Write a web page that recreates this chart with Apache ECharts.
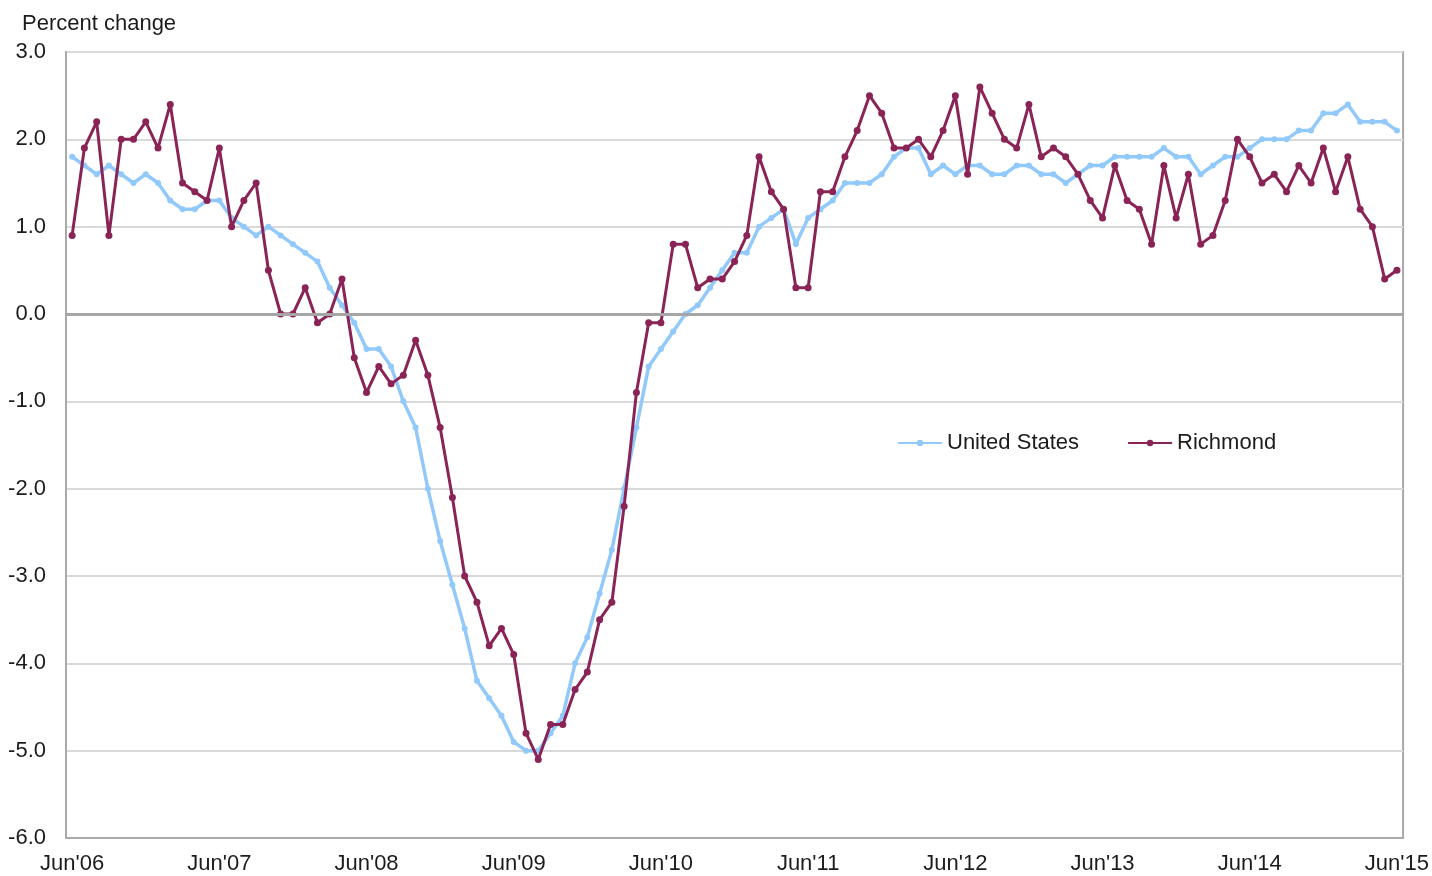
<!DOCTYPE html>
<html>
<head>
<meta charset="utf-8">
<script src="https://cdn.jsdelivr.net/npm/echarts@6/dist/echarts.min.js"></script>
<style>
  html, body { margin: 0; padding: 0; background: #fff; }
  #chart { width: 1432px; height: 876px; }
</style>
</head>
<body>
<div id="chart"></div>
<script>
// Monthly categories, June 2006 through June 2015
const months = ['Jan','Feb','Mar','Apr','May','Jun','Jul','Aug','Sep','Oct','Nov','Dec'];
const categories = [];
for (let y = 2006; y <= 2015; y++) {
  for (let m = 0; m < 12; m++) {
    if ((y === 2006 && m < 5) || (y === 2015 && m > 5)) continue;
    categories.push(months[m] + "'" + String(y).slice(2));
  }
}

// Over-the-year percent change, United States
const unitedStates = [
  1.8, 1.7, 1.6, 1.7, 1.6, 1.5, 1.6, 1.5, 1.3, 1.2, 1.2, 1.3,
  1.3, 1.1, 1.0, 0.9, 1.0, 0.9, 0.8, 0.7, 0.6, 0.3, 0.1, -0.1,
  -0.4, -0.4, -0.6, -1.0, -1.3, -2.0, -2.6, -3.1, -3.6, -4.2, -4.4, -4.6,
  -4.9, -5.0, -5.0, -4.8, -4.6, -4.0, -3.7, -3.2, -2.7, -2.0, -1.3, -0.6,
  -0.4, -0.2, 0.0, 0.1, 0.3, 0.5, 0.7, 0.7, 1.0, 1.1, 1.2, 0.8,
  1.1, 1.2, 1.3, 1.5, 1.5, 1.5, 1.6, 1.8, 1.9, 1.9, 1.6, 1.7,
  1.6, 1.7, 1.7, 1.6, 1.6, 1.7, 1.7, 1.6, 1.6, 1.5, 1.6, 1.7,
  1.7, 1.8, 1.8, 1.8, 1.8, 1.9, 1.8, 1.8, 1.6, 1.7, 1.8, 1.8,
  1.9, 2.0, 2.0, 2.0, 2.1, 2.1, 2.3, 2.3, 2.4, 2.2, 2.2, 2.2,
  2.1
];

// Over-the-year percent change, Richmond
const richmond = [
  0.9, 1.9, 2.2, 0.9, 2.0, 2.0, 2.2, 1.9, 2.4, 1.5, 1.4, 1.3,
  1.9, 1.0, 1.3, 1.5, 0.5, 0.0, 0.0, 0.3, -0.1, 0.0, 0.4, -0.5,
  -0.9, -0.6, -0.8, -0.7, -0.3, -0.7, -1.3, -2.1, -3.0, -3.3, -3.8, -3.6,
  -3.9, -4.8, -5.1, -4.7, -4.7, -4.3, -4.1, -3.5, -3.3, -2.2, -0.9, -0.1,
  -0.1, 0.8, 0.8, 0.3, 0.4, 0.4, 0.6, 0.9, 1.8, 1.4, 1.2, 0.3,
  0.3, 1.4, 1.4, 1.8, 2.1, 2.5, 2.3, 1.9, 1.9, 2.0, 1.8, 2.1,
  2.5, 1.6, 2.6, 2.3, 2.0, 1.9, 2.4, 1.8, 1.9, 1.8, 1.6, 1.3,
  1.1, 1.7, 1.3, 1.2, 0.8, 1.7, 1.1, 1.6, 0.8, 0.9, 1.3, 2.0,
  1.8, 1.5, 1.6, 1.4, 1.7, 1.5, 1.9, 1.4, 1.8, 1.2, 1.0, 0.4,
  0.5
];

const seriesNames = ['United States', 'Richmond'];
const yTicks = { min: -6, max: 3, step: 1 };

const FONT = '"Liberation Sans", Arial, sans-serif';
const TEXT = '#1c1c1c';
const US_COLOR = '#92c9fb';
const RICH_COLOR = '#8a2456';

const chart = echarts.init(document.getElementById('chart'), null, { renderer: 'canvas' });

chart.setOption({
  animation: false,
  backgroundColor: '#ffffff',
  textStyle: { fontFamily: FONT },
  graphic: [{
    type: 'text',
    left: 22,
    top: 13,
    style: { text: 'Percent change', font: '22px ' + FONT, fill: TEXT }
  }],
  legend: {
    data: seriesNames,
    left: 892,
    top: 427,
    itemGap: 48,
    itemWidth: 44,
    itemHeight: 8,
    textStyle: { fontSize: 22, color: TEXT, fontFamily: FONT }
  },
  grid: {
    left: 66, right: 28, top: 52, bottom: 38,
    show: true,
    borderColor: '#a9a9a9',
    borderWidth: 2
  },
  xAxis: {
    type: 'category',
    data: categories,
    boundaryGap: true,
    axisLine: { show: true, onZero: false, lineStyle: { color: '#a9a9a9', width: 2 } },
    axisTick: { show: false },
    axisLabel: {
      interval: 11,
      margin: 15,
      fontSize: 22,
      color: TEXT,
      fontFamily: FONT
    },
    splitLine: { show: false }
  },
  yAxis: {
    type: 'value',
    min: yTicks.min,
    max: yTicks.max,
    interval: yTicks.step,
    axisLine: { show: true, lineStyle: { color: '#a9a9a9', width: 2 } },
    axisTick: { show: false },
    axisLabel: {
      margin: 20,
      fontSize: 22,
      color: TEXT,
      fontFamily: FONT,
      formatter: v => v.toFixed(1)
    },
    splitLine: { show: true, lineStyle: { color: '#d9d9d9', width: 2 } }
  },
  series: [
    {
      name: seriesNames[0],
      type: 'line',
      data: unitedStates,
      symbol: 'circle',
      symbolSize: 6,
      showSymbol: true,
      color: US_COLOR,
      lineStyle: { color: US_COLOR, width: 3.5 },
      itemStyle: { color: US_COLOR },
      markLine: {
        silent: true,
        symbol: 'none',
        label: { show: false },
        lineStyle: { color: '#a6a6a6', width: 3, type: 'solid' },
        data: [{ yAxis: 0 }]
      },
      z: 2
    },
    {
      name: seriesNames[1],
      type: 'line',
      data: richmond,
      symbol: 'circle',
      symbolSize: 7,
      showSymbol: true,
      color: RICH_COLOR,
      lineStyle: { color: RICH_COLOR, width: 3 },
      itemStyle: { color: RICH_COLOR },
      z: 3
    }
  ]
});
</script>
</body>
</html>
